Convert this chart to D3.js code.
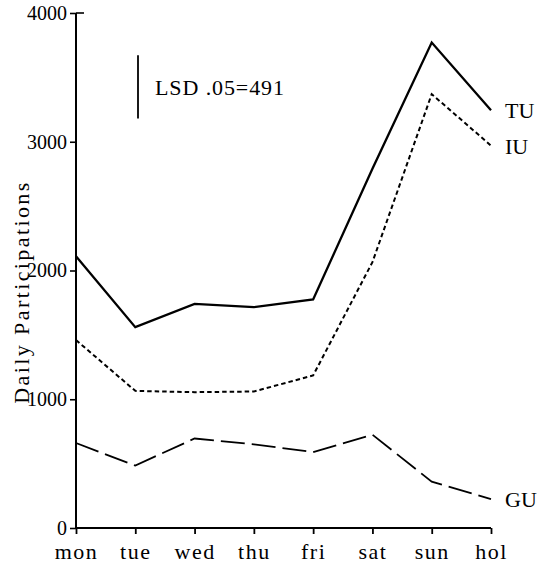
<!DOCTYPE html>
<html>
<head>
<meta charset="utf-8">
<script src="https://cdn.jsdelivr.net/npm/d3@7"></script>
<style>
  html, body { margin: 0; padding: 0; background: #fff; }
  svg { display: block; }
</style>
</head>
<body>
<svg id="chart" width="541" height="563"></svg>
<script>
// Daily participations by day type
const days = ["mon", "tue", "wed", "thu", "fri", "sat", "sun", "hol"];
const tuValues = [2110, 1560, 1740, 1715, 1775, 2790, 3770, 3245];
const iuValues = [1460, 1065, 1055, 1060, 1185, 2065, 3370, 2970];
const guValues = [660, 485, 695, 650, 590, 725, 360, 225];
const yTicks = [0, 1000, 2000, 3000, 4000];
const lsdValue = 491;
const lsdLabel = "LSD .05=491";
const seriesNames = ["TU", "IU", "GU"];

const SERIF = "'Liberation Serif', 'Times New Roman', serif";

const svg = d3.select("#chart");
const x = d3.scalePoint().domain(days).range([76, 491]);
const y = d3.scaleLinear().domain([0, 4000]).range([528, 13]);

// axes
const xAxis = d3.axisBottom(x).tickSize(6).tickPadding(8);
const gx = svg.append("g").attr("transform", "translate(0,528)").call(xAxis);
gx.attr("font-family", null).style("font-family", SERIF);
gx.select(".domain").attr("d", `M75,0H${x("hol")}`).attr("stroke-width", 2);
gx.selectAll(".tick line").attr("stroke-width", 1.8);
gx.selectAll(".tick text")
  .style("font-family", SERIF)
  .attr("font-size", 22).attr("letter-spacing", "1.5px")
  .attr("y", 31).attr("dy", 0);

const yAxis = d3.axisLeft(y).tickValues(yTicks).tickFormat(d3.format("d")).tickSize(6).tickPadding(3);
const gy = svg.append("g").attr("transform", "translate(76,0)").call(yAxis);
gy.attr("font-family", null).style("font-family", SERIF);
gy.select(".domain").attr("d", `M0,${y(0)}V${y(4000)}`).attr("stroke-width", 2);
gy.selectAll(".tick line").attr("stroke-width", 1.6);
gy.selectAll(".tick text")
  .style("font-family", SERIF)
  .attr("font-size", 20)
  .attr("dy", "0.32em");
// small cap at the top of the value axis
svg.append("line").attr("x1", 76).attr("x2", 84).attr("y1", y(4000)).attr("y2", y(4000))
  .attr("stroke", "#000").attr("stroke-width", 1.6);

svg.append("text")
  .attr("transform", "translate(29,292) rotate(-90)")
  .attr("text-anchor", "middle")
  .style("font-family", SERIF)
  .attr("font-size", 22).attr("letter-spacing", "2.4px")
  .text("Daily Participations");

// series lines
const line = d3.line().x((d, i) => x(days[i])).y(d => y(d));
const series = [
  { name: seriesNames[0], values: tuValues, dash: null, width: 2.3 },
  { name: seriesNames[1], values: iuValues, dash: "4.5,3", width: 2 },
  { name: seriesNames[2], values: guValues, dash: "24,7", width: 1.8 }
];
svg.selectAll("path.series").data(series).enter().append("path")
  .attr("class", "series")
  .attr("d", d => line(d.values))
  .attr("fill", "none")
  .attr("stroke", "#000")
  .attr("stroke-width", d => d.width)
  .attr("stroke-dasharray", d => d.dash)
  .attr("stroke-linejoin", "miter");

// end labels
svg.selectAll("text.series-label").data(series).enter().append("text")
  .attr("class", "series-label")
  .attr("x", x("hol") + 14)
  .attr("y", d => y(d.values[d.values.length - 1]) + 8)
  .style("font-family", SERIF)
  .attr("font-size", 22)
  .text(d => d.name);

// least significant difference bar
const lsdBase = 3180;
svg.append("line")
  .attr("x1", 138).attr("x2", 138)
  .attr("y1", y(lsdBase)).attr("y2", y(lsdBase + lsdValue))
  .attr("stroke", "#000").attr("stroke-width", 1.8);
svg.append("text")
  .attr("x", 155).attr("y", 95)
  .style("font-family", SERIF)
  .attr("font-size", 22).attr("letter-spacing", "0.9px")
  .text(lsdLabel);
</script>
</body>
</html>
